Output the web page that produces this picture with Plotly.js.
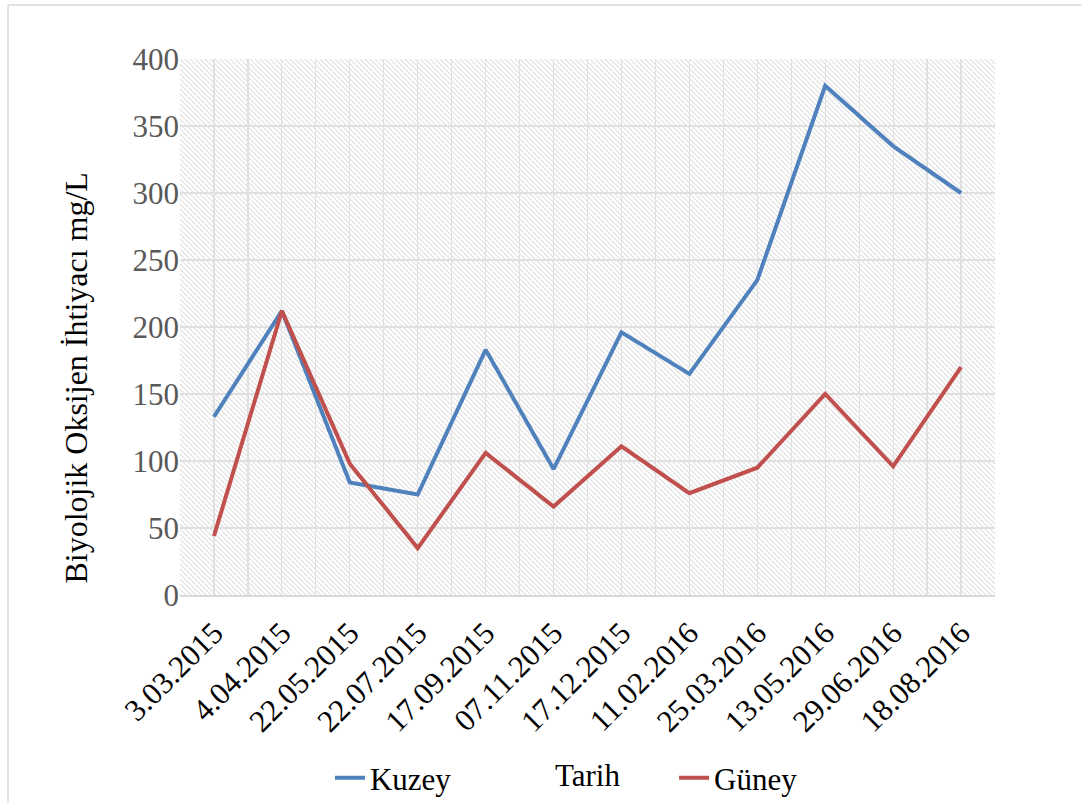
<!DOCTYPE html>
<html>
<head>
<meta charset="utf-8">
<script src="https://cdn.plot.ly/plotly-3.0.1.min.js"></script>
<style>html,body{margin:0;padding:0;background:#fff;}#chart{width:1089px;height:803px;}</style>
</head>
<body>
<div id="chart"></div>
<script>
const dates = ["3.03.2015","4.04.2015","22.05.2015","22.07.2015","17.09.2015","07.11.2015","17.12.2015","11.02.2016","25.03.2016","13.05.2016","29.06.2016","18.08.2016"];
const kuzey = [133, 212, 84, 75, 183, 94, 196, 165, 235, 380, 335, 300];
const guney = [44, 212, 98, 35, 106, 66, 111, 76, 95, 150, 96, 170];
const yTitle = "Biyolojik Oksijen İhtiyacı mg/L";
const xTitle = "Tarih";

const W = 1089, H = 803;
const M = {l: 180, r: 94, t: 59, b: 208};
const pw = W - M.l - M.r, ph = H - M.t - M.b;

const svg = `<svg xmlns="http://www.w3.org/2000/svg" width="${pw}" height="${ph}" preserveAspectRatio="none">
<defs><pattern id="p" width="5" height="5" patternUnits="userSpaceOnUse">
<path d="M-1,-1 L6,6 M-1,4 L1,6 M4,-1 L6,1" stroke="#dfdfdf" stroke-width="1.1"/></pattern></defs>
<rect width="100%" height="100%" fill="#ffffff"/><rect width="100%" height="100%" fill="url(#p)"/></svg>`;
const bgSrc = "data:image/svg+xml;charset=utf-8," + encodeURIComponent(svg);

const font = "Liberation Serif";

const traces = [
  {x: dates, y: kuzey, type: "scatter", mode: "lines", name: "Kuzey",
   line: {color: "#4f81bd", width: 4}, legend: "legend"},
  {x: dates, y: guney, type: "scatter", mode: "lines", name: "Güney",
   line: {color: "#c0504d", width: 4}, legend: "legend2"},
  {x: [-0.5, 11.5], y: [0, 0], xaxis: "x2", yaxis: "y", type: "scatter", mode: "lines",
   line: {width: 0}, showlegend: false, hoverinfo: "skip"}
];

const legendCommon = {orientation: "h", xanchor: "left", yanchor: "middle",
  xref: "container", yref: "container", bgcolor: "rgba(0,0,0,0)",
  font: {family: font, size: 31, color: "#000"}};

const layout = {
  width: W, height: H,
  margin: M,
  paper_bgcolor: "#ffffff",
  plot_bgcolor: "rgba(0,0,0,0)",
  font: {family: font, size: 31, color: "#000"},
  images: [{source: bgSrc, xref: "paper", yref: "paper", x: 0, y: 1, sizex: 1, sizey: 1,
            xanchor: "left", yanchor: "top", sizing: "stretch", layer: "below"}],
  xaxis: {
    type: "category", range: [-0.5, 11.5], tickangle: -45,
    showgrid: false, showline: true, linecolor: "#d9d9d9", linewidth: 1.5,
    ticks: "outside", ticklen: 6, tickcolor: "rgba(0,0,0,0)",
    tickfont: {family: font, size: 31, color: "#000"},
    automargin: false, fixedrange: true
  },
  xaxis2: {
    overlaying: "x", range: [-0.5, 11.5], dtick: 0.5, tick0: -0.5, showticklabels: false,
    showgrid: true, gridcolor: "#e0e0e0", gridwidth: 1.2, zeroline: false, ticks: "",
    automargin: false
  },
  yaxis: {
    range: [0, 400], dtick: 50, showgrid: true, gridcolor: "#e0e0e0", gridwidth: 1.2,
    zeroline: false, showline: false, ticks: "",
    tickfont: {family: font, size: 31, color: "#595959"},
    automargin: false
  },
  annotations: [
    {text: xTitle, xref: "paper", yref: "paper", x: 0.5, y: -0.336,
     xanchor: "center", yanchor: "middle", showarrow: false,
     font: {family: font, size: 31, color: "#000"}},
    {text: yTitle, xref: "paper", yref: "paper", x: -0.128, y: 0.405, textangle: -90,
     xanchor: "center", yanchor: "middle", showarrow: false,
     font: {family: font, size: 32, color: "#000"}}
  ],
  legend: Object.assign({x: 0.303, y: 0.031}, legendCommon),
  legend2: Object.assign({x: 0.619, y: 0.031}, legendCommon),
  shapes: [
    {type: "line", xref: "paper", yref: "paper", x0: -0.211, x1: 1.106, y0: 1.1007, y1: 1.1007,
     line: {color: "#d9d9d9", width: 1.5}},
    {type: "line", xref: "paper", yref: "paper", x0: -0.211, x1: -0.211, y0: 1.1007, y1: -0.42,
     line: {color: "#d9d9d9", width: 1.5}}
  ],
  showlegend: true
};

Plotly.newPlot("chart", traces, layout, {displayModeBar: false, staticPlot: true});
</script>
</body>
</html>
